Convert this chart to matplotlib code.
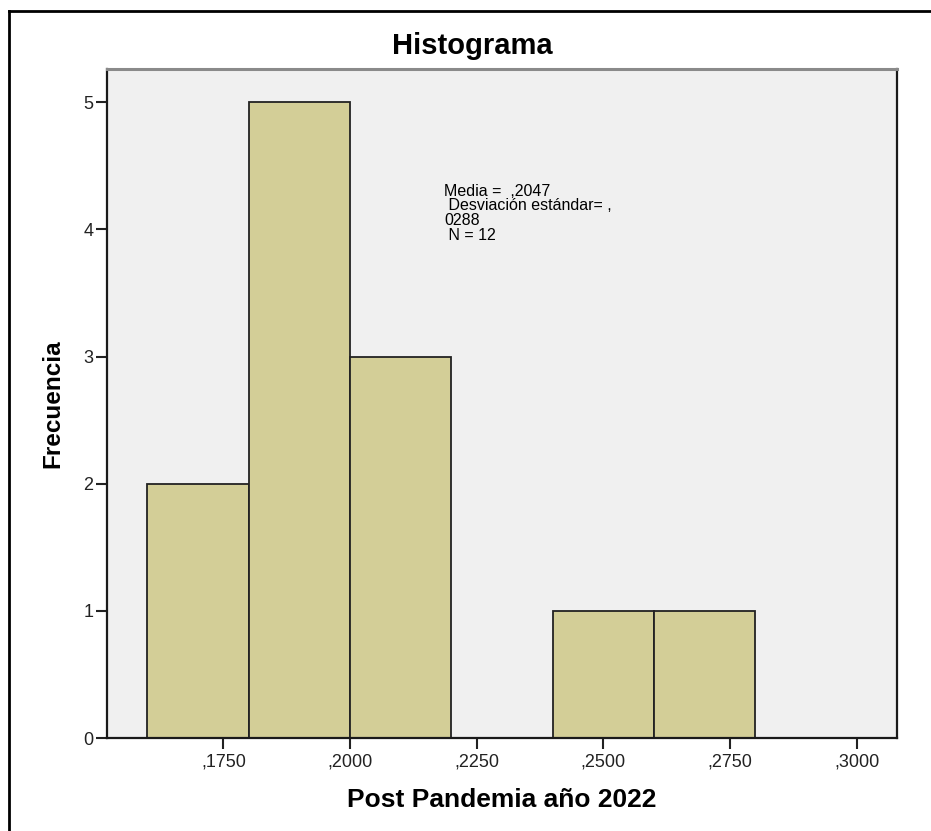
import matplotlib
matplotlib.use("Agg")
import matplotlib.pyplot as plt
from matplotlib.lines import Line2D

plt.rcParams["font.family"] = ["Liberation Sans", "DejaVu Sans"]

# histogram bins (Post Pandemia año 2022) and frequencies
bin_edges = [0.16, 0.18, 0.20, 0.22, 0.24, 0.26, 0.28]
counts = [2, 5, 3, 0, 1, 1]

x_ticks = [0.175, 0.200, 0.225, 0.250, 0.275, 0.300]
y_ticks = [0, 1, 2, 3, 4, 5]

stats_text = "Media =  ,2047\n Desviación estándar= ,\n0288\n N = 12"

fig = plt.figure(figsize=(9.31, 8.31), dpi=100)
ax = fig.add_axes([0.1153, 0.1119, 0.8479, 0.8047])
ax.set_facecolor("#f0f0f0")

lefts = [bin_edges[i] for i in range(len(counts)) if counts[i] > 0]
widths = [bin_edges[i + 1] - bin_edges[i] for i in range(len(counts)) if counts[i] > 0]
heights = [c for c in counts if c > 0]
ax.bar(lefts, heights, width=widths, align="edge", color="#d3ce97",
       edgecolor="#222222", linewidth=1.3, zorder=2)

ax.set_xlim(0.1521, 0.3079)
ax.set_ylim(0, 5.26)
ax.set_xticks(x_ticks)
ax.set_xticklabels(["," + f"{v:.4f}"[2:] for v in x_ticks])
ax.set_yticks(y_ticks)
ax.tick_params(axis="x", direction="out", length=8, width=1.5, pad=3, labelsize=13, colors="#222222")
ax.tick_params(axis="y", direction="out", length=8, width=1.5, pad=2, labelsize=13, colors="#222222")

for side in ["left", "bottom", "right"]:
    ax.spines[side].set_color("#1a1a1a")
    ax.spines[side].set_linewidth(1.6)
ax.spines["top"].set_color("#8a8a8a")
ax.spines["top"].set_linewidth(2.2)

ax.set_xlabel("Post Pandemia año 2022", fontsize=19, fontweight="bold", labelpad=13)
ax.set_ylabel("Frecuencia", fontsize=17.5, fontweight="bold", labelpad=14)

fig.text(0.507, 0.945, "Histograma", ha="center", va="center", fontsize=21, fontweight="bold")

ax.text(0.2186, 4.36, stats_text, ha="left", va="top", fontsize=11.5, linespacing=0.98)

# outer frame of the SPSS chart
fig.add_artist(Line2D([9 / 931, 9 / 931], [0, 1 - 11 / 831], transform=fig.transFigure, color="black", lw=2))
fig.add_artist(Line2D([9 / 931, 1], [1 - 11 / 831, 1 - 11 / 831], transform=fig.transFigure, color="black", lw=2))

fig.savefig("out.png", dpi=100)
